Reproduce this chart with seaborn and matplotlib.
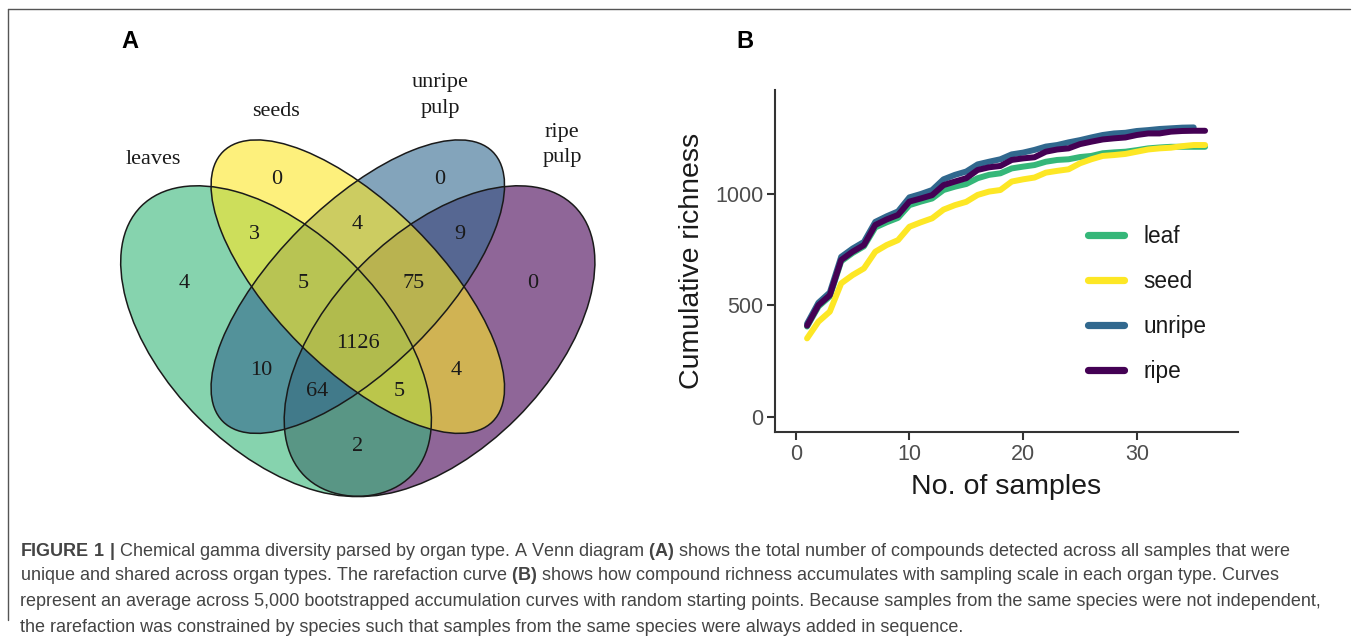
import numpy as np
import pandas as pd
import matplotlib
matplotlib.use("Agg")
import matplotlib.pyplot as plt
from matplotlib.patches import Ellipse
from matplotlib.lines import Line2D
import seaborn as sns

# ---------------- data ----------------
samples = list(range(1, 37))
leaf = [405, 495, 540, 698, 735, 765, 850, 873, 893, 950, 966, 980, 1018, 1033, 1045,
        1071, 1086, 1093, 1115, 1123, 1130, 1145, 1153, 1156, 1166, 1171, 1183, 1187,
        1190, 1197, 1205, 1209, 1212, 1212, 1212, 1212]
seed = [352, 427, 472, 599, 636, 666, 741, 771, 793, 853, 873, 891, 930, 950, 965,
        996, 1011, 1018, 1056, 1066, 1074, 1096, 1104, 1111, 1138, 1156, 1171, 1175,
        1180, 1190, 1200, 1205, 1208, 1215, 1220, 1220]
unripe = [418, 512, 558, 718, 755, 785, 875, 900, 922, 985, 1000, 1018, 1066, 1086, 1101,
          1133, 1145, 1156, 1178, 1186, 1198, 1213, 1220, 1232, 1242, 1254, 1265, 1272,
          1275, 1283, 1287, 1292, 1295, 1298, 1299]
ripe = [409, 501, 546, 704, 741, 771, 861, 886, 906, 966, 980, 995, 1040, 1056, 1071,
        1108, 1120, 1126, 1153, 1160, 1165, 1190, 1200, 1205, 1224, 1235, 1245, 1250,
        1254, 1265, 1272, 1272, 1280, 1283, 1284, 1284]
organs = ["leaf", "seed", "unripe", "ripe"]
organ_colors = ["#35B779", "#FDE725", "#31688E", "#440154"]
x_ticks = [0, 10, 20, 30]
y_ticks = [0, 500, 1000]

venn_sets = ["leaves", "seeds", "unripe\npulp", "ripe\npulp"]
venn_colors = ["#35B779", "#FDE725", "#31688E", "#440154"]
venn_regions = ["L", "S", "U", "R", "LS", "SU", "UR", "LSU", "SUR", "LSUR",
                "LU", "SR", "LUR", "LSR", "LR"]
venn_counts = [4, 0, 0, 0, 3, 4, 9, 5, 75, 1126, 10, 4, 64, 5, 2]

caption_lines = [
    r"$\mathbf{FIGURE\ 1\ |}$ Chemical gamma diversity parsed by organ type. A Venn diagram $\mathbf{(A)}$ shows the total number of compounds detected across all samples that were",
    r"unique and shared across organ types. The rarefaction curve $\mathbf{(B)}$ shows how compound richness accumulates with sampling scale in each organ type. Curves",
    "represent an average across 5,000 bootstrapped accumulation curves with random starting points. Because samples from the same species were not independent,",
    "the rarefaction was constrained by species such that samples from the same species were always added in sequence.",
]

# ---------------- style ----------------
sns.set_style("ticks")
plt.rcParams["font.family"] = ["Liberation Sans", "DejaVu Sans"]
plt.rcParams["mathtext.fontset"] = "custom"
plt.rcParams["mathtext.rm"] = "Liberation Sans"
plt.rcParams["mathtext.bf"] = "Liberation Sans:bold"

W, H = 1355, 643
fig = plt.figure(figsize=(W / 100, H / 100), dpi=100)
fig.patch.set_facecolor("white")

# ---------------- Venn (A) ----------------
axv = fig.add_axes([85.3 / W, 1 - 597.3 / H, 545 / W, 545 / H])
axv.set_xlim(0, 1)
axv.set_ylim(0, 1)
axv.axis("off")

# geometry: (center, semi-major, semi-minor, angle)
geom = [((0.35, 0.47), 0.35, 0.20, -45),
        ((0.50, 0.57), 0.35, 0.15, -45),
        ((0.50, 0.57), 0.35, 0.15, 45),
        ((0.65, 0.47), 0.35, 0.20, 45)]
fill_order = [3, 0, 2, 1]
for i in fill_order:
    c, a, b, ang = geom[i]
    axv.add_patch(Ellipse(c, 2 * a, 2 * b, angle=ang, facecolor=venn_colors[i],
                          alpha=0.6, edgecolor="none"))
for i in range(4):
    c, a, b, ang = geom[i]
    axv.add_patch(Ellipse(c, 2 * a, 2 * b, angle=ang, facecolor="none",
                          edgecolor="#1a1a1a", linewidth=1.1))

region_pos = [(0.181, 0.576), (0.351, 0.766), (0.651, 0.766), (0.820, 0.576),
              (0.310, 0.666), (0.499, 0.684), (0.688, 0.666), (0.400, 0.576),
              (0.602, 0.576), (0.501, 0.466), (0.322, 0.417), (0.680, 0.417),
              (0.425, 0.377), (0.576, 0.377), (0.499, 0.276)]
for cnt, (u, v) in zip(venn_counts, region_pos):
    axv.text(u, v, str(cnt), ha="center", va="center", fontsize=16,
             family="Liberation Serif", color="#1a1a1a")

set_pos = [(0.124, 0.803), (0.350, 0.891), (0.651, 0.921), (0.875, 0.830)]
for name, (u, v) in zip(venn_sets, set_pos):
    axv.text(u, v, name, ha="center", va="center", fontsize=16,
             family="Liberation Serif", color="#1a1a1a", linespacing=1.45)

# ---------------- Rarefaction (B) ----------------
ax = fig.add_axes([775 / W, 1 - 431.7 / H, 462.7 / W, 341.7 / H])
series = [leaf, seed, unripe, ripe]
df = pd.concat([pd.DataFrame({"samples": samples[:len(v)], "richness": v, "organ": o})
                for o, v in zip(organs, series)], ignore_index=True)
sns.lineplot(data=df, x="samples", y="richness", hue="organ", hue_order=organs,
             palette=organ_colors, linewidth=4.3, estimator=None, ax=ax)
ax.set_xlim(-1.82, 38.87)
ax.set_ylim(-67, 1467)
ax.set_xticks(x_ticks)
ax.set_yticks(y_ticks)
sns.despine(ax=ax)
for s in ["left", "bottom"]:
    ax.spines[s].set_linewidth(1.5)
    ax.spines[s].set_color("#333333")
ax.tick_params(axis="both", bottom=True, left=True, length=5.5, width=1.5,
               color="#333333", labelcolor="#4D4D4D", labelsize=15.5, pad=3)
ax.set_xlabel("No. of samples", fontsize=20.5, color="#1a1a1a", labelpad=6.5)
ax.set_ylabel("Cumulative richness", fontsize=20.5, color="#1a1a1a", labelpad=7.5)

handles, labels = ax.get_legend_handles_labels()
leg = ax.legend(handles, labels, loc="upper left", bbox_to_anchor=(0.6765, 0.605),
                frameon=False, fontsize=16.3, handlelength=1.6, handletextpad=0.84,
                labelspacing=0.97, borderpad=0, borderaxespad=0)
for h in leg.get_lines():
    h.set_linewidth(5.2)
for t in leg.get_texts():
    t.set_color("#1a1a1a")

# ---------------- panel letters ----------------
fig.text(130 / W, 1 - 42 / H, "A", ha="center", va="center", fontsize=17,
         fontweight="bold", color="black")
fig.text(745 / W, 1 - 42 / H, "B", ha="center", va="center", fontsize=17,
         fontweight="bold", color="black")

# ---------------- frame ----------------
fig.add_artist(Line2D([8 / W, 8 / W], [1 - 9 / H, 1 - 620 / H], color="#555555",
                      linewidth=1.0))
fig.add_artist(Line2D([8 / W, 1350 / W], [1 - 9 / H, 1 - 9 / H], color="#555555",
                      linewidth=1.0))

# ---------------- caption ----------------
cap_y = [551, 576, 601, 627]
for line, y in zip(caption_lines, cap_y):
    fig.text(20 / W, 1 - y / H, line, ha="left", va="center", fontsize=13.0,
             color="#444444")

fig.savefig("out.png", dpi=100, facecolor="white")
